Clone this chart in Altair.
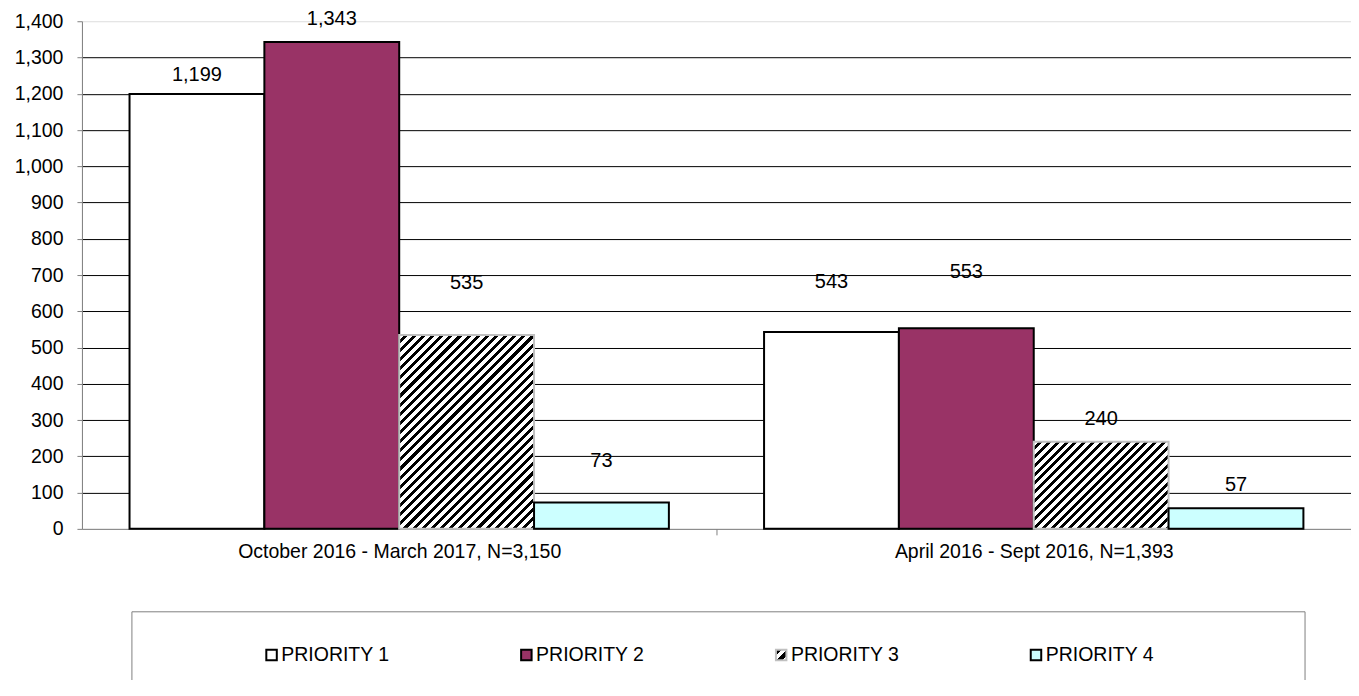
import json
import altair as alt
import pandas as pd

# ---------------- data ----------------
periods = ["October 2016 - March 2017, N=3,150", "April 2016 - Sept 2016, N=1,393"]
priorities = ["PRIORITY 1", "PRIORITY 2", "PRIORITY 3", "PRIORITY 4"]
priority_1 = [1199, 543]
priority_2 = [1343, 553]
priority_3 = [535, 240]
priority_4 = [73, 57]
y_ticks = list(range(0, 1401, 100))

# ---------------- style ----------------
PLOT_W, PLOT_H = 1270, 508
Y_MAX = 1400
FONT = "Liberation Sans"
stroke_colors = ["#000000", "#000000", "#C0C0C0", "#000000"]
# label lift above the bar top (px), per period, per priority (as placed in the original)
label_lift = [[19, 22.5, 52, 41], [50, 56, 23, 23]]

series = [priority_1, priority_2, priority_3, priority_4]
rows = []
for i, per in enumerate(periods):
    for j, pr in enumerate(priorities):
        rows.append({"period": per, "priority": pr, "value": series[j][i],
                     "lift": label_lift[i][j]})
df = pd.DataFrame(rows)


def stripes(w, h, period=6.4, black=0.45):
    n = max(1, round((w + h) / (period * 2 ** 0.5)))
    k = (w + h) / (w * w + h * h)
    stops = []
    for i in range(n):
        a = round(i / n, 5)
        b = round((i + 1 - black) / n, 5)
        c = round((i + 1) / n, 5)
        stops += [{"offset": a, "color": "#ffffff"}, {"offset": b, "color": "#ffffff"},
                  {"offset": b, "color": "#000000"}, {"offset": c, "color": "#000000"}]
    return {"gradient": "linear", "x1": 0, "y1": 0,
            "x2": round(k * w, 5), "y2": round(k * h, 5), "stops": stops}


bar_w = PLOT_W / 2 * 0.85 / 4
conds = []
for i, per in enumerate(periods):
    h = priority_3[i] / Y_MAX * PLOT_H
    conds.append({"test": f"datum.priority == 'PRIORITY 3' && datum.period == '{per}'",
                  "value": stripes(bar_w, h)})

legend_grad = {"gradient": "linear", "x1": 0, "y1": 0, "x2": 1, "y2": 1,
               "stops": [{"offset": 0, "color": "#000000"}, {"offset": 0.3, "color": "#000000"},
                         {"offset": 0.3, "color": "#ffffff"}, {"offset": 0.5, "color": "#ffffff"},
                         {"offset": 0.5, "color": "#000000"}, {"offset": 0.8, "color": "#000000"},
                         {"offset": 0.8, "color": "#ffffff"}, {"offset": 1, "color": "#ffffff"}]}
fill_range = ["#FFFFFF", "#993366", {"expr": json.dumps(legend_grad)}, "#CCFFFF"]

legend = alt.Legend(title=None, orient="none", legendX=176, legendY=624,
                    direction="horizontal", columns=4, columnPadding=123,
                    labelFont=FONT, labelFontSize=19.5, labelColor="#000000",
                    labelOffset=0, symbolOffset=4, symbolType="square", symbolSize=110,
                    symbolStrokeWidth=2, padding=0)

half_step = PLOT_W / 2 / 2
x_axis = alt.Axis(title=None, labelAngle=0, tickOffset=half_step, labelOffset=-half_step,
                  tickSize=6, tickColor="#808080", domainColor="#808080",
                  labelFont=FONT, labelFontSize=19.5, labelColor="#000000",
                  labelPadding=8, labelLimit=1000, grid=False)
x_scale = alt.Scale(paddingInner=0.15, paddingOuter=0.075)
xoff_scale = alt.Scale(paddingInner=0, paddingOuter=0)
y_axis = alt.Axis(title=None, values=y_ticks, format=",d", tickSize=5,
                  tickColor="#808080", domainColor="#808080",
                  labelFont=FONT, labelFontSize=19.5, labelColor="#000000",
                  labelPadding=14, labelOverlap=False,
                  grid=True, gridColor="#000000", gridWidth=1,
                  gridOpacity={"condition": {"test": "datum.value == 0 || datum.value == 1400",
                                             "value": 0}, "value": 1})
y_scale = alt.Scale(domain=[0, Y_MAX], nice=False)

bars = alt.Chart(df).mark_bar(strokeWidth=2).encode(
    x=alt.X("period:N", sort=periods, scale=x_scale, axis=x_axis),
    xOffset=alt.XOffset("priority:N", sort=priorities, scale=xoff_scale),
    y=alt.Y("value:Q", scale=y_scale, axis=y_axis),
    fill=alt.Fill("priority:N", sort=priorities,
                  scale=alt.Scale(domain=priorities, range=fill_range),
                  legend=legend, condition=conds),
    stroke=alt.Stroke("priority:N", sort=priorities,
                      scale=alt.Scale(domain=priorities, range=stroke_colors),
                      legend=legend),
)

labels = alt.Chart(df).transform_calculate(
    label_pos=f"datum.value + datum.lift * {Y_MAX} / {PLOT_H}"
).mark_text(font=FONT, fontSize=20, baseline="middle", color="#000000").encode(
    x=alt.X("period:N", sort=periods, scale=x_scale, axis=x_axis),
    xOffset=alt.XOffset("priority:N", sort=priorities, scale=xoff_scale),
    y=alt.Y("label_pos:Q", scale=y_scale, axis=y_axis),
    text=alt.Text("value:Q", format=","),
)

# legend frame (its bottom edge lies below the visible page, as in the original)
box = alt.Chart(alt.Data(values=[{}])).mark_rect(
    fillOpacity=0, stroke="#808080", strokeWidth=1).encode(
    x=alt.value(50), x2=alt.value(1224), y=alt.value(591), y2=alt.value(720))

chart = alt.layer(bars, labels, box).properties(
    width=PLOT_W, height=PLOT_H,
    padding={"left": 74, "top": 13, "right": 0, "bottom": 151},
    autosize=alt.AutoSizeParams(type="none"),
    background="#FFFFFF",
).configure_view(strokeWidth=0).configure(font=FONT)

chart.save("out.html", embed_options={"renderer": "svg", "actions": False})
